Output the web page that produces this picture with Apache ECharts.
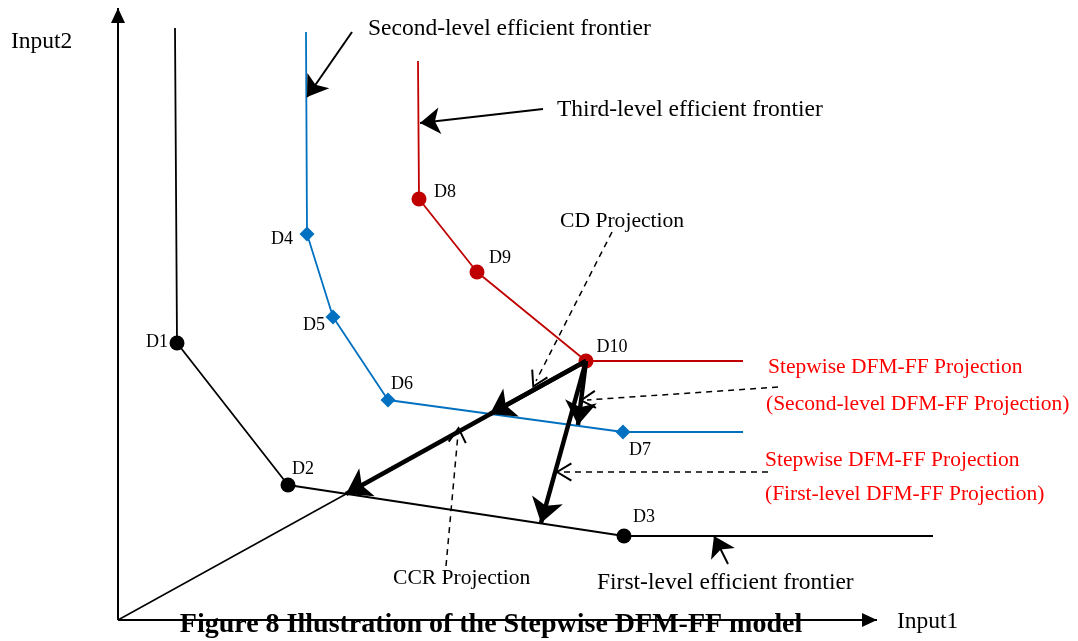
<!DOCTYPE html>
<html><head><meta charset="utf-8">
<script src="https://cdn.jsdelivr.net/npm/echarts@6/dist/echarts.min.js"></script>
<style>html,body{margin:0;padding:0;background:#fff}#c{width:1078px;height:641px}</style>
</head><body><div id="c"></div>
<script>
// ---- data (schematic units, origin at axis intersection) ----
const axisEnds = [[759, 0], [0, 612]];           // Input1 axis end, Input2 axis end
const firstNames = ['', 'D1', 'D2', 'D3', ''];
const firstLevel = [[57, 592], [59, 277], [170, 135], [506, 84], [815, 84]];
const secondNames = ['', 'D4', 'D5', 'D6', 'D7', ''];
const secondLevel = [[188, 588], [189, 386], [215, 303], [270, 220], [505, 188], [625, 188]];
const thirdNames = ['', 'D8', 'D9', 'D10', ''];
const thirdLevel = [[300, 559], [301, 421], [359, 348], [468, 259], [625, 259]];
const origin = [0, 0];
const ccrPoint = [228, 126];        // CCR projection of D10 on first-level frontier
const ccrMid = [372, 206];          // CCR ray crossing second-level frontier
const secondProj = [460, 195];      // second-level DFM-FF projection of D10
const firstProj = [423, 97];        // first-level DFM-FF projection of D10
// annotation pointers: [from, to]
const cdPointer = [[494, 388], [418, 239]];
const secondPointer = [[660, 233], [469, 220]];
const firstPointer = [[650, 148], [445, 148]];
const ccrPointer = [[328, 54], [340, 186]];
const secondFrontierPointer = [[234, 588], [189, 523]];
const thirdFrontierPointer = [[425, 511], [302, 497]];
const firstFrontierPointer = [[610, 56], [596, 84]];

// ---- layout/styles ----
const SERIF = '"Liberation Serif", "Times New Roman", serif';
const labelOffsets = {
  D1: [-20, -1], D2: [15, -16], D3: [20, -19], D4: [-25, 5], D5: [-19, 8],
  D6: [14, -16], D7: [17, 18], D8: [26, -7], D9: [23, -14], D10: [26, -14]
};
// open chevron (apex up) inside a square box so it is not stretched
const openArrow = 'path://M1,12 L7,2 L13,12 L11.9,12.7 L7,4.4 L2.1,12.7 Z M0,14 L14,14 L0,14 Z M0,0 L14,0 L0,0 Z';
const triangle = 'path://M7,0 L14,15 L0,15 Z';

function pts(names, arr) {
  return arr.map((p, i) => ({
    value: p, name: names[i],
    symbolSize: names[i] ? undefined : 0,
    label: names[i] ? { show: true, offset: labelOffsets[names[i]] } : { show: false }
  }));
}
function frontier(names, arr, color, symbol, size) {
  return {
    type: 'line', data: pts(names, arr), symbol: symbol, symbolSize: size,
    showAllSymbol: true, clip: false, z: 3,
    lineStyle: { color: color, width: 1.8 },
    itemStyle: { color: color, opacity: 1 },
    label: { position: 'inside', color: '#000', fontFamily: SERIF, fontSize: 18, formatter: '{b}' },
    emphasis: { disabled: true }, animation: false
  };
}
function seg(list, opt) {
  return Object.assign({
    type: 'lines', coordinateSystem: 'cartesian2d', animation: false, z: 4,
    data: list.map(c => ({ coords: c }))
  }, opt);
}

const chart = echarts.init(document.getElementById('c'), null, { renderer: 'canvas' });
const text = (t, x, y, size, color, extra) => Object.assign({
  type: 'text', x: x, y: y, z: 10,
  style: Object.assign({ text: t, fontSize: size, fontFamily: SERIF, fill: color || '#000', align: 'left', verticalAlign: 'middle' }, extra || {})
}, {});

chart.setOption({
  animation: false,
  grid: { left: 118, right: 0, top: 0, bottom: 21 },
  xAxis: { type: 'value', min: 0, max: 960, show: false },
  yAxis: { type: 'value', min: 0, max: 620, show: false },
  series: [
    // axes
    seg([[origin, axisEnds[0]], [origin, axisEnds[1]]], {
      symbol: 'none',
      lineStyle: { color: '#000', width: 2, opacity: 1 }
    }),
    {
      type: 'scatter', z: 5, animation: false, silent: true,
      symbol: triangle, symbolSize: [14, 15],
      itemStyle: { color: '#000', opacity: 1 },
      data: [
        { value: axisEnds[0], symbolRotate: -90, symbolOffset: [-7.5, 0] },
        { value: axisEnds[1], symbolRotate: 0, symbolOffset: [0, 7.5] }
      ]
    },
    // thin CCR ray from origin
    seg([[origin, ccrPoint]], { lineStyle: { color: '#000', width: 1.5, opacity: 1 }, symbol: 'none' }),
    frontier(firstNames, firstLevel, '#000000', 'circle', 15),
    frontier(secondNames, secondLevel, '#0070C0', 'diamond', 15),
    frontier(thirdNames, thirdLevel, '#C00000', 'circle', 15),
    // thick projection arrows
    seg([[thirdLevel[3], ccrPoint], [thirdLevel[3], ccrMid], [thirdLevel[3], secondProj], [thirdLevel[3], firstProj]], {
      symbol: ['none', 'arrow'], symbolSize: [0, 24], z: 5,
      lineStyle: { color: '#000', width: 4.5, opacity: 1 }
    }),
    // dashed pointers with open heads
    seg([cdPointer, secondPointer, firstPointer, ccrPointer], {
      symbol: ['none', openArrow], symbolSize: [0, 22], z: 6,
      itemStyle: { color: '#000' },
      lineStyle: { color: '#000', width: 1.5, type: [6, 5], opacity: 1 }
    }),
    // solid pointers to frontiers
    seg([secondFrontierPointer, thirdFrontierPointer, firstFrontierPointer], {
      symbol: ['none', 'arrow'], symbolSize: [0, 20], z: 6,
      lineStyle: { color: '#000', width: 2, opacity: 1 }
    })
  ],
  graphic: [
    text('Input2', 11, 42, 23.5),
    text('Input1', 897, 622, 23.5),
    text('Second-level efficient frontier', 368, 29, 23.5),
    text('Third-level efficient frontier', 557, 110, 23.5),
    text('CD Projection', 560, 221, 21.6),
    text('Stepwise DFM-FF Projection', 768, 367, 21.5, '#FF0000'),
    text('(Second-level DFM-FF Projection)', 766, 404, 21.5, '#FF0000'),
    text('Stepwise DFM-FF Projection', 765, 460, 21.5, '#FF0000'),
    text('(First-level DFM-FF Projection)', 765, 494, 21.5, '#FF0000'),
    text('CCR Projection', 393, 578, 21.6),
    text('First-level efficient frontier', 597, 583, 23.5),
    text('Figure 8 Illustration of the Stepwise DFM-FF model', 491, 625, 28, '#000', { align: 'center', fontWeight: 'bold' })
  ]
});
</script></body></html>
